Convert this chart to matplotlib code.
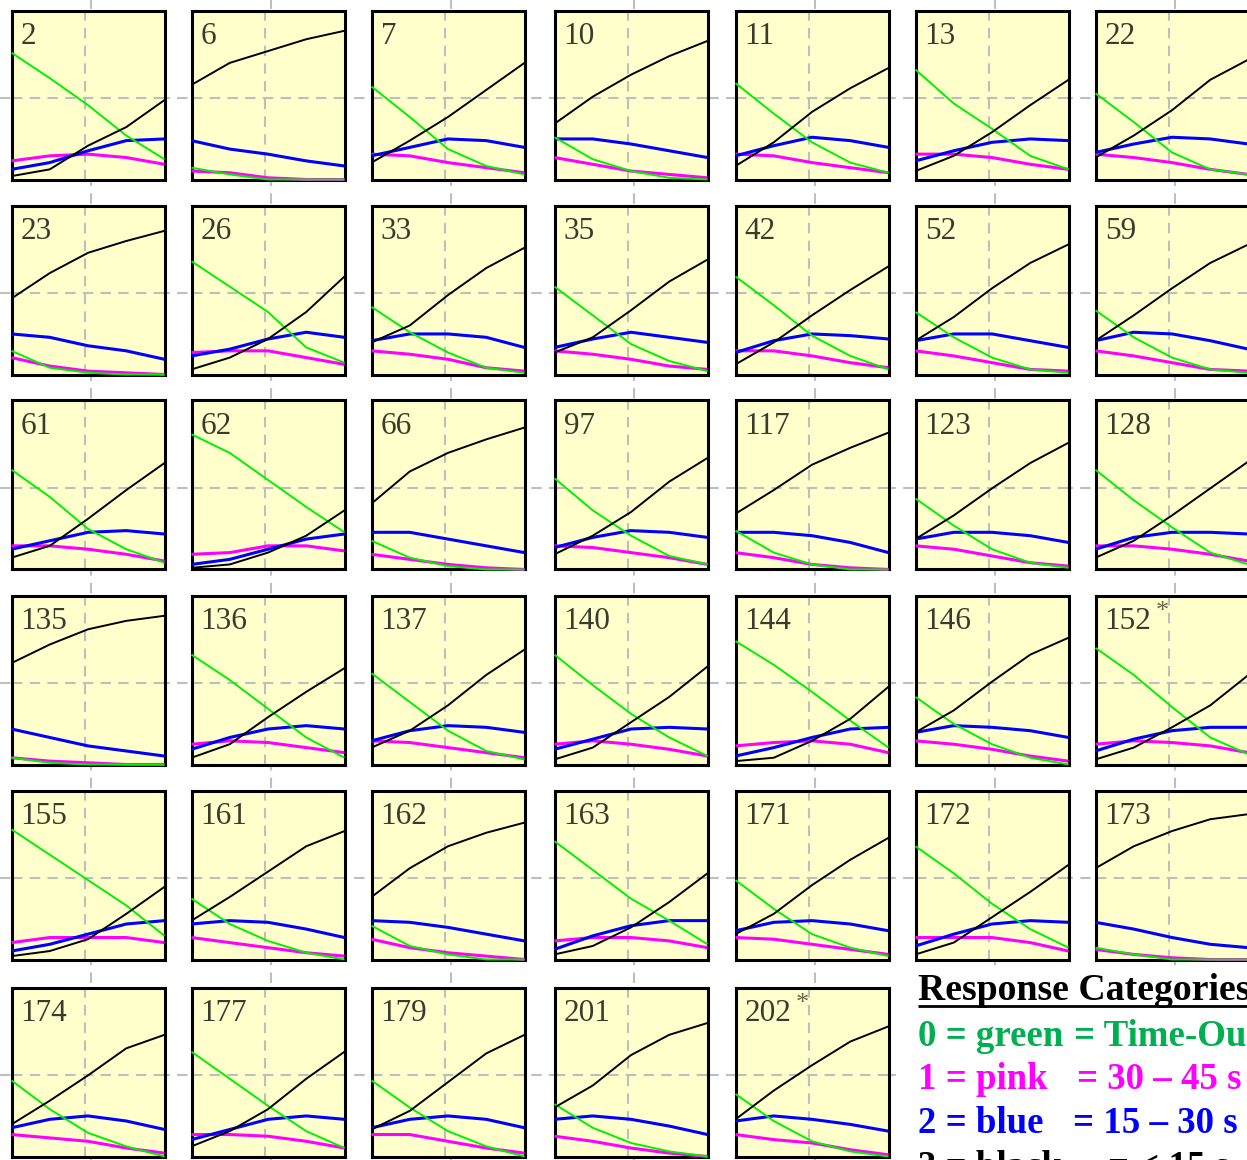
import matplotlib
matplotlib.use("Agg")
import matplotlib.pyplot as plt
from matplotlib.patches import Rectangle

plt.rcParams['font.family'] = ['Liberation Serif', 'DejaVu Serif']

# ---------------- data ----------------
items = ["2", "6", "7", "10", "11", "13", "22",
         "23", "26", "33", "35", "42", "52", "59",
         "61", "62", "66", "97", "117", "123", "128",
         "135", "136", "137", "140", "144", "146", "152*",
         "155", "161", "162", "163", "171", "172", "173",
         "174", "177", "179", "201", "202*"]

theta = [-3.0, -1.5, 0.0, 1.5, 3.0]

green = [
    [.75, .60, .44, .26, .12], [.07, .03, 0, 0, 0], [.55, .37, .18, .08, .03],
    [.25, .12, .05, .01, 0], [.57, .39, .22, .10, .04], [.65, .45, .30, .14, .06],
    [.51, .34, .16, .06, .03],
    [.14, .04, .01, 0, 0], [.67, .52, .37, .16, .07], [.40, .25, .13, .04, .01],
    [.52, .35, .18, .08, .02], [.58, .41, .23, .11, .03], [.37, .22, .10, .03, .01],
    [.38, .22, .10, .03, .01],
    [.59, .43, .24, .12, .04], [.80, .69, .53, .37, .22], [.17, .07, .02, 0, 0],
    [.54, .35, .20, .08, .03], [.23, .10, .03, 0, 0], [.42, .26, .12, .04, .01],
    [.59, .41, .25, .10, .03],
    [.04, .01, 0, 0, 0], [.65, .50, .33, .16, .04], [.54, .37, .20, .08, .03],
    [.65, .47, .30, .16, .05], [.73, .59, .43, .26, .10], [.40, .24, .12, .04, 0],
    [.69, .53, .34, .16, .06],
    [.77, .62, .47, .32, .14], [.36, .21, .11, .04, 0], [.20, .08, .03, 0, 0],
    [.70, .53, .36, .23, .09], [.47, .30, .15, .07, .02], [.67, .51, .33, .18, .07],
    [.07, .03, 0, 0, 0],
    [.45, .28, .14, .06, 0], [.62, .46, .30, .15, .05], [.45, .29, .15, .06, 0],
    [.31, .17, .08, .03, 0], [.37, .21, .09, .03, 0],
]

pink = [
    [.11, .14, .15, .13, .09], [.05, .04, .01, 0, 0], [.15, .14, .10, .07, .04],
    [.13, .09, .05, .03, .01], [.15, .14, .10, .07, .04], [.15, .15, .13, .09, .06],
    [.15, .13, .10, .06, .03],
    [.10, .05, .02, .01, 0], [.13, .14, .14, .10, .06], [.14, .12, .09, .04, .02],
    [.14, .12, .09, .05, .03], [.14, .14, .11, .07, .04], [.14, .11, .07, .03, .02],
    [.14, .11, .07, .03, .02],
    [.14, .14, .12, .09, .05], [.09, .10, .14, .14, .11], [.09, .06, .03, .01, 0],
    [.14, .13, .10, .07, .03], [.10, .07, .03, .01, 0], [.14, .12, .08, .04, .02],
    [.14, .14, .12, .09, .05],
    [.04, .02, .01, 0, 0], [.12, .14, .13, .10, .07], [.14, .13, .10, .07, .04],
    [.12, .14, .12, .09, .05], [.11, .13, .14, .12, .07], [.14, .12, .09, .05, .02],
    [.12, .14, .13, .11, .07],
    [.10, .13, .13, .13, .10], [.13, .10, .07, .04, .02], [.12, .07, .04, .02, 0],
    [.11, .13, .13, .11, .07], [.13, .12, .09, .06, .03], [.13, .13, .13, .10, .05],
    [.06, .03, .01, 0, 0],
    [.13, .11, .09, .05, .02], [.13, .13, .12, .09, .05], [.13, .13, .09, .05, .02],
    [.12, .09, .05, .02, 0], [.13, .10, .08, .04, .01],
]

blue = [
    [.06, .10, .17, .23, .24], [.23, .18, .15, .11, .08], [.14, .19, .24, .23, .19],
    [.24, .24, .21, .17, .13], [.14, .20, .25, .23, .19], [.11, .17, .22, .24, .23],
    [.16, .21, .25, .24, .21],
    [.24, .22, .17, .14, .09], [.11, .15, .21, .25, .22], [.20, .24, .24, .22, .16],
    [.16, .21, .25, .22, .19], [.13, .20, .24, .23, .21], [.20, .24, .24, .20, .16],
    [.20, .25, .24, .20, .15],
    [.12, .17, .22, .23, .21], [.03, .06, .12, .18, .21], [.22, .22, .18, .14, .10],
    [.13, .19, .23, .22, .19], [.22, .22, .20, .16, .10], [.18, .22, .22, .20, .16],
    [.12, .19, .22, .22, .21],
    [.21, .16, .11, .08, .05], [.09, .16, .21, .23, .21], [.14, .20, .23, .22, .19],
    [.09, .15, .21, .22, .21], [.05, .10, .16, .21, .22], [.19, .23, .22, .20, .16],
    [.08, .15, .20, .22, .22],
    [.05, .09, .15, .21, .23], [.21, .23, .22, .18, .13], [.23, .22, .19, .15, .11],
    [.06, .14, .20, .23, .23], [.17, .22, .23, .21, .17], [.08, .15, .21, .23, .22],
    [.22, .18, .13, .09, .07],
    [.17, .22, .24, .21, .16], [.10, .16, .22, .24, .22], [.17, .22, .24, .22, .17],
    [.22, .24, .22, .18, .13], [.21, .24, .22, .19, .15],
]

black = [
    [.02, .06, .20, .31, .47], [.56, .69, .76, .83, .88], [.10, .23, .37, .53, .69],
    [.33, .49, .62, .73, .82], [.08, .22, .40, .54, .66], [.05, .14, .28, .44, .59],
    [.13, .26, .41, .59, .71],
    [.45, .60, .72, .79, .85], [.03, .10, .21, .37, .58], [.19, .29, .47, .63, .75],
    [.13, .22, .38, .55, .68], [.06, .19, .35, .50, .64], [.20, .34, .51, .66, .77],
    [.20, .35, .51, .66, .77],
    [.07, .14, .30, .47, .63], [.01, .03, .10, .20, .35], [.39, .58, .69, .77, .84],
    [.09, .20, .34, .52, .66], [.33, .47, .62, .72, .81], [.18, .32, .48, .63, .75],
    [.07, .17, .32, .48, .64],
    [.60, .71, .80, .85, .88], [.04, .12, .28, .43, .57], [.10, .20, .35, .53, .68],
    [.03, .10, .25, .40, .58], [.02, .04, .14, .27, .46], [.19, .32, .49, .65, .75],
    [.03, .10, .22, .35, .53],
    [.02, .05, .12, .27, .43], [.23, .37, .52, .67, .76], [.37, .54, .67, .75, .81],
    [.03, .08, .19, .34, .51], [.15, .27, .44, .59, .72], [.03, .10, .25, .40, .56],
    [.54, .67, .76, .83, .86],
    [.19, .33, .48, .64, .72], [.06, .15, .28, .46, .62], [.16, .27, .44, .61, .72],
    [.29, .42, .60, .72, .79], [.22, .39, .54, .68, .77],
]

legend_title = "Response Categories"
legend_left = ["0 = green", "1 = pink", "2 = blue", "3 = black"]
legend_right = ["= Time-Out", "= 30 \u2013 45 s", "= 15 \u2013 30 s", "= < 15 s"]

# ---------------- layout / style ----------------
W, H = 1247, 1160
fig = plt.figure(figsize=(W / 100, H / 100), dpi=100)
fig.patch.set_facecolor('white')

col_left = [10, 190, 370, 553, 734, 914, 1094]
row_top = [9, 204, 399, 594, 789, 986]
pw, ph = 156, 172
ncols = 7

GRID = '#BEBEBE'
DASH = (0, (5, 3.5))

bg = fig.add_axes([0, 0, 1, 1], zorder=0)
bg.set_xlim(0, W)
bg.set_ylim(H, 0)
bg.axis('off')
for cl in col_left:
    bg.axvline(cl + 0.52 * pw, color=GRID, lw=1.5, linestyle=DASH, zorder=1)
for rt in row_top:
    bg.axhline(rt + ph * (1 - 0.48), color=GRID, lw=1.5, linestyle=DASH, zorder=1)

curve_styles = [
    (pink, '#FF00FF', 2.2),
    (blue, '#0000FF', 2.2),
    (green, '#00F000', 1.4),
    (black, '#000000', 1.4),
]

for i, lab in enumerate(items):
    r, c = divmod(i, ncols)
    left = col_left[c] + 1.5
    top = row_top[r] + 1.5
    w = pw - 3
    h = ph - 3
    ax = fig.add_axes([left / W, 1 - (top + h) / H, w / W, h / H], zorder=2)
    ax.set_facecolor('#FFFFCC')
    ax.set_xlim(-3, 3)
    ax.set_ylim(0, 1)
    ax.set_xticks([])
    ax.set_yticks([])
    for s in ax.spines.values():
        s.set_linewidth(2.2)
        s.set_color('black')
    ax.axvline(-0.12, color=GRID, lw=1.5, linestyle=DASH, zorder=1)
    ax.axhline(0.48, color=GRID, lw=1.5, linestyle=DASH, zorder=1)
    for data, col, lw in curve_styles:
        ax.plot(theta, data[i], color=col, lw=lw, clip_on=False, zorder=3,
                solid_capstyle='butt')
    star = lab.endswith('*')
    base = lab.rstrip('*')
    t = ax.text(0.06, 0.80, base, transform=ax.transAxes, fontsize=22.5,
                color='#3a3a2e', ha='left', va='baseline', zorder=4)
    if star:
        ax.annotate('*', xy=(1.0, 0.45), xycoords=t, xytext=(3, 0),
                    textcoords='offset points', fontsize=19, color='#66664f',
                    ha='left', va='bottom', zorder=4)

# ---------------- legend block ----------------
bg.add_patch(Rectangle((903, 966), W - 903, H - 966, facecolor='white',
                       edgecolor='none', zorder=1.5))
tt = bg.text(918, 1000, legend_title, fontsize=27.2, fontweight='bold',
             color='black', ha='left', va='baseline', zorder=3)
fig.canvas.draw()
bb = tt.get_window_extent()
inv = bg.transData.inverted()
x0, _ = inv.transform((bb.x0, bb.y0))
x1, _ = inv.transform((bb.x1, bb.y0))
bg.plot([x0, x1], [1005.5, 1005.5], color='black', lw=2.0, zorder=3,
        solid_capstyle='butt')

leg_colors = ['#00B050', '#FF00FF', '#0000FF', '#000000']
leg_base = [1046, 1089, 1133, 1177]
leg_right_x = [1074, 1077, 1073, 1108]
for k in range(4):
    bg.text(918, leg_base[k], legend_left[k], fontsize=26.6, fontweight='bold',
            color=leg_colors[k], ha='left', va='baseline', zorder=3)
    bg.text(leg_right_x[k], leg_base[k], legend_right[k], fontsize=26.6,
            fontweight='bold', color=leg_colors[k], ha='left', va='baseline',
            zorder=3)

fig.savefig('out.png', dpi=100, facecolor='white')
